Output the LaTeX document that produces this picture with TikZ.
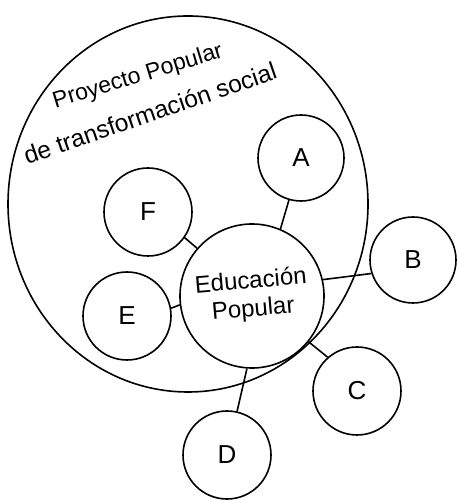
\documentclass[tikz,border=0pt]{standalone}
\usepackage{fontspec}
\setmainfont{Liberation Sans}
\begin{document}
\begin{tikzpicture}[x=1pt,y=1pt,
  ink/.style={line width=1.6pt, draw=black},
  bub/.style={ink, circle, inner sep=0pt, font=\fontsize{26}{30}\selectfont},
  lbl/.style={font=\fontsize{23}{26}\selectfont, inner sep=0pt}]
\useasboundingbox (0,0) rectangle (458,502);
\draw[ink] (188,298) ellipse [x radius=180, y radius=188];
\node[lbl, rotate=17] (p1) at (138,425) {Proyecto Popular};
\node[lbl, rotate=19, font=\fontsize{24.5}{28}\selectfont] (p2) at (150,389) {de transformación social};
\node[bub, minimum size=144pt, align=center, rotate=5, font=\fontsize{24}{28}\selectfont] (edu) at (252,206) {Educación\\Popular};
\node[bub, minimum size=86pt] (A) at (301,344) {A};
\node[bub, minimum size=86pt] (B) at (413,242) {B};
\node[bub, minimum size=88pt] (C) at (357,111) {C};
\node[bub, minimum size=88pt] (D) at (227,47) {D};
\node[bub, minimum size=88pt] (E) at (127,186) {E};
\node[bub, minimum size=88pt] (F) at (148,290) {F};
\draw[ink] (edu.62) -- (A.254);
\draw[ink] (edu.8) -- (B.198);
\draw[ink] (edu.316) -- (C.131);
\draw[ink] (edu.261) -- (D.77);
\draw[ink] (edu.182) -- (E.10);
\draw[ink] (edu.134) -- (F.325);
\end{tikzpicture}
\end{document}
